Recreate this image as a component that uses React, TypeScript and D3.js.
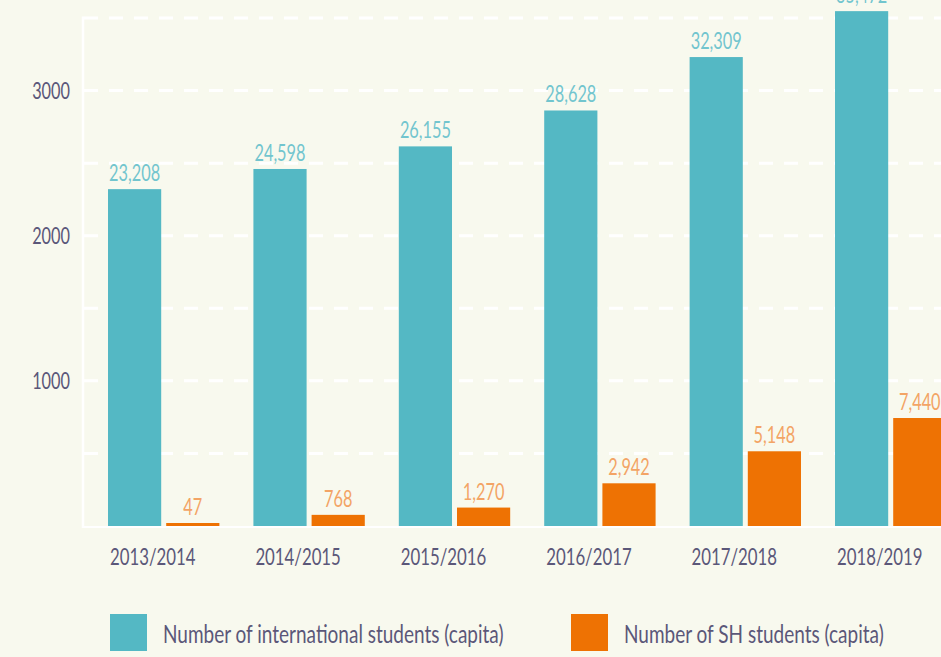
import * as d3 from "d3";
import { useEffect, useRef } from "react";

const years = ["2013/2014", "2014/2015", "2015/2016", "2016/2017", "2017/2018", "2018/2019"];
const intlStudents = [23208, 24598, 26155, 28628, 32309, 35472];
const shStudents = [47, 768, 1270, 2942, 5148, 7440];
const seriesNames = ["Number of international students (capita)", "Number of SH students (capita)"];
const gridValues = [500, 1000, 1500, 2000, 2500, 3000, 3500];
const tickLabels = [1000, 2000, 3000];

const W = 941;
const H = 657;
const BG = "#f8f9ee";
const TEAL = "#54b8c4";
const ORANGE = "#ee7203";
const TEAL_TXT = "#72c5ce";
const ORANGE_TXT = "#f3a465";
const INK = "#5b5779";
const FONT = "Lato, 'Open Sans', sans-serif";

export default function App() {
  const svgRef = useRef<SVGSVGElement>(null);

  useEffect(() => {
    const svg = d3.select(svgRef.current);
    svg.selectAll("*").remove();

    svg.append("rect").attr("width", W).attr("height", H).attr("fill", BG);

    const y = d3.scaleLinear().domain([0, 3500]).range([526, 18]);
    const x0 = d3.scaleBand().domain(years).range([91, 91 + 6 * 145.4]).paddingInner(0.234).paddingOuter(0.117);
    const x1 = d3.scaleBand().domain(["intl", "sh"]).range([0, x0.bandwidth()]).paddingInner(0.086);

    const axisX = 83;

    // condensed text (the original uses a narrow face)
    const ctext = (g: any, tx: number, ty: number, s: string, size: number, fill: string, anchor: string, sq: number) =>
      g.append("text")
        .attr("transform", `translate(${tx},${ty}) scale(${sq},1)`)
        .attr("text-anchor", anchor)
        .attr("font-family", FONT)
        .attr("font-size", size)
        .attr("fill", fill)
        .text(s);

    // gridlines
    svg.append("g").selectAll("line")
      .data(gridValues)
      .join("line")
      .attr("x1", axisX + 1)
      .attr("x2", W)
      .attr("y1", d => y(d))
      .attr("y2", d => y(d))
      .attr("stroke", "#ffffff")
      .attr("stroke-width", 3)
      .attr("stroke-dasharray", "14 11");

    // y tick labels
    const tg = svg.append("g");
    tickLabels.forEach(t => ctext(tg, 70, y(t) + 8, String(t), 24, INK, "end", 0.68));

    // bars
    const groups = svg.append("g").selectAll("g")
      .data(years)
      .join("g")
      .attr("transform", d => `translate(${x0(d)},0)`);

    const fmt = d3.format(",");
    groups.each(function (d, i) {
      const g = d3.select(this);
      const rows = [
        { key: "intl", v: intlStudents[i], c: TEAL, tc: TEAL_TXT },
        { key: "sh", v: shStudents[i], c: ORANGE, tc: ORANGE_TXT },
      ];
      rows.forEach(r => {
        const top = Math.min(y(r.v / 10), y(0) - 3);
        g.append("rect")
          .attr("x", x1(r.key)!)
          .attr("y", top)
          .attr("width", x1.bandwidth())
          .attr("height", y(0) + 1 - top)
          .attr("fill", r.c);
        ctext(g, x1(r.key)! + x1.bandwidth() / 2, top - 8, fmt(r.v), 24, r.tc, "middle", 0.68);
      });
      ctext(g, x0.bandwidth() / 2 - 11, 565, d, 23, INK, "middle", 0.73);
    });

    // axis lines
    svg.append("line")
      .attr("x1", axisX).attr("x2", axisX)
      .attr("y1", y(3500) - 1.5).attr("y2", y(0) + 2)
      .attr("stroke", "#ffffff").attr("stroke-width", 2.5);
    svg.append("line")
      .attr("x1", axisX).attr("x2", W)
      .attr("y1", y(0) + 1).attr("y2", y(0) + 1)
      .attr("stroke", "#ffffff").attr("stroke-width", 2);

    // legend
    const lg = svg.append("g");
    const legendPos = [110, 571];
    seriesNames.forEach((n, i) => {
      lg.append("rect")
        .attr("x", legendPos[i]).attr("y", 614)
        .attr("width", 37).attr("height", 37)
        .attr("fill", i === 0 ? TEAL : ORANGE);
      ctext(lg, legendPos[i] + 53, 643, n, 25, INK, "start", 0.76);
    });
  }, []);

  return (
    <svg
      ref={svgRef}
      width={W}
      height={H}
      viewBox={`0 0 ${W} ${H}`}
      style={{ position: "absolute", left: 0, top: 0, display: "block" }}
      xmlns="http://www.w3.org/2000/svg"
    />
  );
}
